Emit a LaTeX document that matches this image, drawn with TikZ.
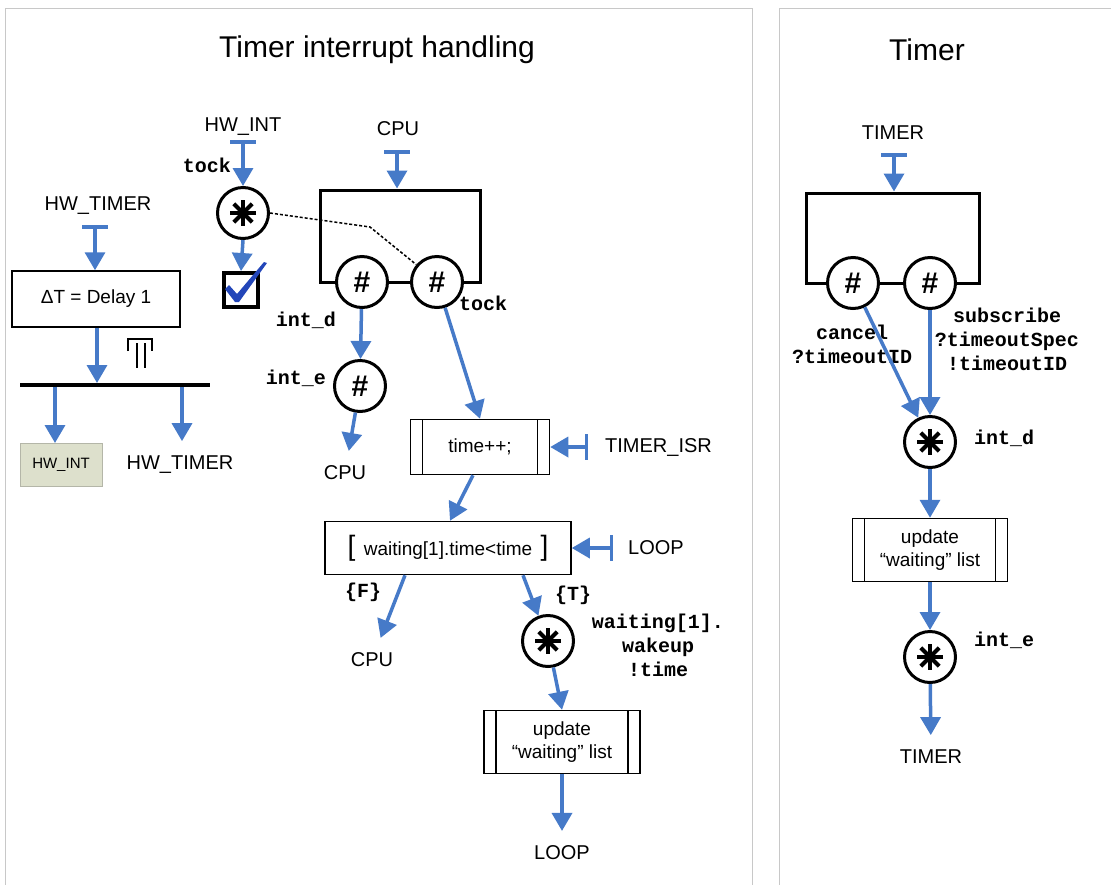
\documentclass[tikz,border=0pt]{standalone}
\usepackage{fontspec}
\setmainfont{Liberation Sans}
\setsansfont{Liberation Sans}
\setmonofont{Liberation Mono}
\usetikzlibrary{arrows.meta,calc,positioning}

\definecolor{flowblue}{RGB}{70,122,200}
\definecolor{panelgray}{RGB}{200,200,200}
\definecolor{boxgreen}{RGB}{221,224,204}
\definecolor{boxedge}{RGB}{180,182,168}
\definecolor{checkblue}{RGB}{35,70,185}

\tikzset{
  flow/.style={draw=flowblue, line width=3.5pt, -{Triangle[length=18pt,width=20pt]}},
  feed/.style={flow, {Bar[width=26pt]}-{Triangle[length=18pt,width=20pt]}},
  lbl/.style={font=\fontsize{20}{23}\selectfont, inner sep=2pt},
  sink/.style={lbl, outer sep=13pt},
  code/.style={font=\fontsize{20}{24}\selectfont\ttfamily\bfseries, align=center, inner sep=1pt},
  procbox/.style={draw, line width=1.5pt, font=\fontsize{19}{23}\selectfont, align=center, inner sep=0pt},
  subproc/.style={procbox, path picture={
    \draw[line width=1.5pt]
      ([xshift=12pt]path picture bounding box.north west) -- ([xshift=12pt]path picture bounding box.south west)
      ([xshift=-12pt]path picture bounding box.north east) -- ([xshift=-12pt]path picture bounding box.south east);}},
  compbox/.style={draw, line width=3pt, inner sep=0pt},
  hashport/.style={circle, draw, fill=white, line width=3pt, minimum size=51pt, inner sep=0pt,
    font=\fontsize{30}{30}\selectfont\bfseries},
  event/.style={circle, draw, fill=white, line width=3pt, minimum size=51pt, inner sep=0pt,
    path picture={\foreach \a in {0,45,90,135}
      \draw[line width=4pt] ($(path picture bounding box.center)+(\a:13pt)$) -- ($(path picture bounding box.center)+(\a+180:13pt)$);}},
}

\begin{document}
\begin{tikzpicture}[x=1pt, y=-1pt]
\useasboundingbox (0,0) rectangle (1111,884);
% panels
\draw[panelgray, line width=1pt] (5,950) -- (5,8) -- (752,8) -- (752,950);
\draw[panelgray, line width=1pt] (779,950) -- (779,8) -- (1200,8);
\node[font=\fontsize{30}{33}\selectfont] (titleL) at (377,50) {Timer interrupt handling};
\node[font=\fontsize{30}{33}\selectfont] (titleR) at (927,50) {Timer};

% hardware timer
\node[lbl] (hwtIn) at (98,206) {HW\_TIMER};
\coordinate (hwtT) at (95,225);
\node[procbox, minimum width=168pt, minimum height=56pt] (delay) at (96,299) {ΔT = Delay 1};
\draw[feed] (hwtT) -- (hwtT |- delay.north);
\coordinate (busIn) at (97,383);
\draw[flow] (delay.south -| busIn) -- (busIn);
\draw[line width=2pt] (128,351) -- (128,339) -- (152,339) -- (152,351)
  (137,343) -- (137,368) (145,343) -- (145,368);
\coordinate (busL) at (20,385);
\coordinate (busR) at (210,385);
\draw[line width=4pt] (busL) -- (busR);
\node[draw=boxedge, fill=boxgreen, line width=1pt, minimum width=82pt, minimum height=43pt,
  font=\fontsize{15}{18}\selectfont] (hwint) at (61,465) {HW\_INT};
\node[sink] (hwtOut) at (180,465) {HW\_TIMER};
\coordinate (busA) at (55,387);
\coordinate (busB) at (182,387);
\draw[flow] (busA) -- (busA |- hwint.north);
\draw[flow] (busB) -- (busB |- hwtOut.north);

% interrupt source
\node[lbl] (hwintIn) at (243,127) {HW\_INT};
\coordinate (hwintT) at (243,140);
\node[code] (tockA) at (207,165) {tock};
\node[event] (tockStar) at (243,213) {};
\draw[feed] (hwintT) -- (tockStar.north);
\node[draw, line width=4pt, minimum size=34pt, inner sep=0pt] (check) at (241,290) {};
\draw[flow] (tockStar.south) -- (check.north);
\fill[checkblue] (225,289) -- (229,285) -- (237,294) -- (264,262) -- (267,263) -- (239,302) -- (235,302) -- cycle;

% CPU component
\node[lbl] (cpuIn) at (398,129) {CPU};
\coordinate (cpuT) at (397,150);
\node[compbox, minimum width=160pt, minimum height=92pt] (compL) at (400,236) {};
\draw[feed] (cpuT) -- (cpuT |- compL.north);
\coordinate (dashBend) at (370,227);
\node[hashport] (hashL) at (362,282) {\#};
\node[hashport] (hashR) at (437,282) {\#};
\draw[densely dashed, line width=1.5pt] (tockStar.east) -- (dashBend) -- (hashR.140);
\node[code] (intdL) at (306,320) {int\_d};
\node[code] (tockB) at (483,303) {tock};
\node[hashport] (hashE) at (360,386) {\#};
\node[code] (inteL) at (296,378) {int\_e};
\draw[flow] (hashL) -- (hashE);
\node[sink] (cpuOutA) at (345,473) {CPU};
\draw[flow] (hashE) -- (cpuOutA);

% ISR
\node[subproc, minimum width=139pt, minimum height=55pt] (isr) at (480,447) {time++;};
\draw[flow] (hashR) -- (isr.north);
\coordinate (isrT) at (588,447);
\node[lbl, anchor=west] (isrL) at (603,447) {TIMER\_ISR};
\draw[feed] (isrT) -- (isr.east);

\node[procbox, minimum width=246pt, minimum height=53pt] (waitTest) at (448,548)
  {{\fontsize{28}{28}\selectfont[}\, waiting[1].time<time\, {\fontsize{28}{28}\selectfont]}};
\draw[flow] ([xshift=-7pt]isr.south) -- ([xshift=2pt]waitTest.north);
\coordinate (loopT) at (613,548);
\node[lbl, anchor=west] (loopL) at (626,548) {LOOP};
\draw[feed] (loopT) -- (waitTest.east);

\node[code] (falseL) at (363,592) {\{F\}};
\node[sink] (cpuOutB) at (372,660) {CPU};
\draw[flow] ([xshift=-43pt]waitTest.south) -- (cpuOutB);
\node[code] (trueL) at (573,595) {\{T\}};
\node[event] (wakeStar) at (548,641) {};
\draw[flow] ([xshift=75pt]waitTest.south) -- (wakeStar);
\node[code] (wakeL) at (658,645) {waiting[1].\\wakeup\\!time};
\node[subproc, minimum width=156pt, minimum height=63pt] (updA) at (562,742) {update\\“waiting” list};
\draw[flow] (wakeStar) -- (updA.north);
\node[sink] (loopOut) at (562,853) {LOOP};
\draw[flow] (updA.south) -- (loopOut.north);

% Timer component
\node[lbl] (timerIn) at (893,133) {TIMER};
\coordinate (timerT) at (894,153);
\node[compbox, minimum width=173pt, minimum height=90pt] (compR) at (893,238) {};
\draw[feed] (timerT) -- (timerT |- compR.north);
\node[hashport] (hashC) at (853,283) {\#};
\node[hashport] (hashS) at (930,283) {\#};
\node[code] (cancelL) at (852,344) {cancel\\?timeoutID};
\node[code] (subL) at (1007,339) {subscribe\\?timeoutSpec\\!timeoutID};
\node[event] (dStar) at (930,442) {};
\node[code] (dL) at (1004,438) {int\_d};
\draw[flow] (hashC) -- (dStar);
\draw[flow] (hashS) -- (dStar);
\node[subproc, minimum width=155pt, minimum height=63pt] (updB) at (930,550) {update\\“waiting” list};
\draw[flow] (dStar) -- (updB.north);
\node[event] (eStar) at (930,657) {};
\node[code] (eL) at (1004,640) {int\_e};
\draw[flow] (updB.south) -- (eStar.north);
\node[sink] (timerOut) at (931,757) {TIMER};
\draw[flow] (eStar) -- (timerOut);
\end{tikzpicture}
\end{document}
